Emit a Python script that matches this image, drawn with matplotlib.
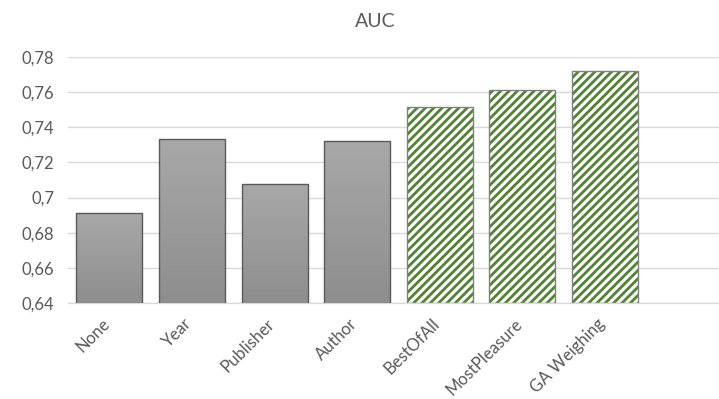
import numpy as np
import matplotlib
matplotlib.use("Agg")
import matplotlib.pyplot as plt
from matplotlib.ticker import FuncFormatter
from matplotlib.transforms import ScaledTranslation

categories = ["None", "Year", "Publisher", "Author", "BestOfAll", "MostPleasure", "GA Weighing"]
auc = [0.6915, 0.7335, 0.7075, 0.7325, 0.7515, 0.761, 0.772]
hatched = [False, False, False, False, True, True, True]

y_ticks = [0.64, 0.66, 0.68, 0.70, 0.72, 0.74, 0.76, 0.78]

plt.rcParams["font.family"] = ["Lato", "DejaVu Sans"]
plt.rcParams["hatch.linewidth"] = 2.0
text_grey = "#595959"

fig = plt.figure(figsize=(7.19, 3.99), dpi=100)
ax = fig.add_axes([0.0946, 0.2406, 0.9054, 0.6164])

x = np.arange(len(categories))
bottom = y_ticks[0]
heights = [v - bottom for v in auc]

# grey bars get a vertical gradient, the rest a green stripe pattern
grad = np.linspace(0, 1, 256).reshape(-1, 1)
for xi, h, hv in zip(x, heights, hatched):
    if hv:
        ax.bar(xi, h, 0.8, bottom=bottom, color="white", edgecolor="#548235",
               hatch="////", linewidth=0, zorder=2)
        ax.bar(xi, h, 0.8, bottom=bottom, facecolor="none", edgecolor="#808080",
               linewidth=1.0, zorder=3)
    else:
        b = ax.bar(xi, h, 0.8, bottom=bottom, color="#9a9a9a", edgecolor="#5a5a5a",
                   linewidth=1.0, zorder=3)[0]
        img = ax.imshow(grad, cmap=matplotlib.colors.LinearSegmentedColormap.from_list(
                            "g", ["#8e8e8e", "#a8a8a8"]),
                        extent=[xi - 0.4, xi + 0.4, bottom, bottom + h],
                        origin="lower", aspect="auto", zorder=2.5)
        img.set_clip_path(b)
        b.set_facecolor("none")

ax.set_xlim(-0.5, 7.38)
ax.set_ylim(0.64, 0.78)
ax.set_yticks(y_ticks)
ax.yaxis.set_major_formatter(FuncFormatter(
    lambda v, p: ("%.2f" % v).rstrip("0").replace(".", ",")))
ax.grid(axis="y", color="#d9d9d9", linewidth=1.0, zorder=0)
ax.set_axisbelow(True)
for s in ["top", "right", "left"]:
    ax.spines[s].set_visible(False)
ax.spines["bottom"].set_color("#d9d9d9")
ax.spines["bottom"].set_linewidth(1.0)
ax.tick_params(axis="both", length=0, colors=text_grey, labelsize=12)
ax.tick_params(axis="y", pad=10)
ax.set_xticks(x)
ax.set_xticklabels(categories, rotation=45, ha="right", rotation_mode="anchor",
                   fontsize=12)
ax.tick_params(axis="x", pad=6)
shift = ScaledTranslation(-8 / 100, -4 / 100, fig.dpi_scale_trans)
for lab in ax.get_xticklabels():
    lab.set_transform(lab.get_transform() + shift)

fig.text(0.522, 0.945, "AUC", ha="center", va="center", fontsize=14, color=text_grey)

fig.savefig("out.png", dpi=100)
